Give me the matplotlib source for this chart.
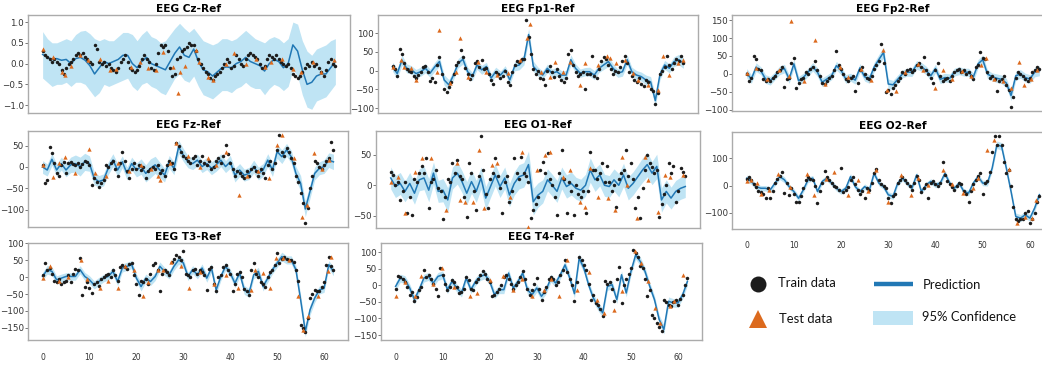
import numpy as np
import matplotlib
matplotlib.use("Agg")
import matplotlib.pyplot as plt

# ---------------- data ----------------
# prediction sampled at x = 0..62 (step 1); train samples at step 0.5
cz_pred = [0.22,0.15,0.1,0.12,0.08,0.1,0.0,0.12,0.15,0.08,
           -0.05,-0.25,-0.1,0.05,0.0,0.05,0.1,0.2,0.2,0.0,
           -0.1,0.05,0.15,0.0,-0.05,-0.1,-0.15,0.05,0.25,0.4,
           0.2,0.15,0.35,0.05,-0.15,-0.2,-0.3,-0.2,-0.1,-0.08,
           -0.1,0.0,0.05,0.15,0.05,0.0,-0.05,-0.18,0.0,0.1,
           0.05,-0.1,0.0,0.45,0.3,-0.15,-0.5,-0.45,-0.3,-0.25,
           -0.25,-0.1,0.05]
cz_hi = [0.77,0.6,0.5,0.5,0.55,0.6,0.55,0.7,0.78,0.8,
         0.72,0.6,0.55,0.6,0.55,0.55,0.65,0.75,0.75,0.7,
         0.55,0.7,0.8,0.65,0.6,0.5,0.55,0.7,0.85,0.97,
         0.85,0.75,0.85,0.7,0.55,0.5,0.45,0.5,0.6,0.6,
         0.55,0.6,0.7,0.8,0.7,0.6,0.55,0.5,0.6,0.65,
         0.6,0.5,0.6,1.0,0.95,0.55,0.3,0.2,0.35,0.4,
         0.45,0.55,0.6]
cz_lo = [-0.35,-0.45,-0.55,-0.5,-0.5,-0.45,-0.55,-0.45,-0.45,-0.5,
         -0.65,-0.8,-0.7,-0.5,-0.55,-0.5,-0.45,-0.4,-0.35,-0.55,
         -0.65,-0.5,-0.45,-0.55,-0.6,-0.7,-0.75,-0.55,-0.35,-0.25,
         -0.4,-0.45,-0.3,-0.55,-0.75,-0.8,-0.85,-0.75,-0.65,-0.65,
         -0.7,-0.6,-0.55,-0.45,-0.55,-0.6,-0.6,-0.75,-0.6,-0.5,
         -0.55,-0.65,-0.55,-0.15,-0.3,-0.75,-1.05,-1.1,-0.9,-0.85,
         -0.8,-0.65,-0.5]
cz_train = [0.3,0.2,0.15,0.1,0.05,0.1,0.05,0.0,-0.15,-0.25,
            -0.1,0.0,0.05,0.1,0.2,0.25,0.2,0.25,0.15,0.1,
            0.05,0.0,0.45,0.35,0.05,0.0,0.05,-0.05,0.0,-0.1,
            -0.15,-0.2,-0.1,0.05,0.1,0.2,0.05,-0.1,-0.15,-0.2,
            -0.15,-0.05,0.1,0.2,0.1,0.05,-0.1,-0.15,0.0,0.25,
            0.45,0.4,0.45,0.3,-0.1,-0.3,-0.25,0.1,0.15,0.3,
            0.35,0.4,0.5,0.45,0.45,0.3,0.1,0.0,-0.1,-0.2,
            -0.25,-0.35,-0.4,-0.3,-0.25,-0.2,-0.1,0.0,0.1,0.05,
            -0.1,-0.05,0.2,0.1,0.0,-0.05,0.1,0.2,0.25,0.2,
            0.15,0.1,0.0,-0.1,-0.05,0.1,0.2,0.15,0.1,0.2,
            0.1,0.05,0.0,-0.05,0.0,-0.1,-0.25,-0.3,-0.35,-0.3,
            -0.2,-0.1,0.0,-0.05,0.05,-0.05,0.0,-0.1,-0.2,-0.3,
            -0.15,0.05,0.1,0.0,-0.05]
cz_test_x = [0,2.25,4.0,4.7,6.1,7.9,9.6,12.1,14.2,15.6,18.8,20.6,22.3,24.1,25.5,
             27.6,28.7,29.0,30.1,32.5,33.2,35.0,36.0,38.9,40.6,43.1,45.2,47.0,48.4,50.8,
             53.0,54.7,57.2,58.9,61.8]
cz_test_y = [0.35,0.15,-0.2,-0.28,-0.05,0.2,0.08,0.1,-0.15,-0.12,-0.08,0.05,-0.1,-0.15,0.28,
             -0.08,-0.72,-0.2,-0.05,0.32,0.05,-0.32,-0.4,0.0,0.25,0.0,0.12,-0.08,0.05,0.12,
             -0.12,-0.2,0.04,-0.2,0.08]

fp1_pred = [10,-8,28,6,2,-8,-3,6,-7,10,
            24,-25,-38,-12,20,30,-3,-16,15,2,
            11,-20,-3,-12,2,-25,11,15,29,96,
            11,-3,-12,6,-7,-3,-12,-12,29,6,
            -7,-3,-3,-12,6,15,24,6,-7,-3,
            29,-3,-12,-16,-25,-30,-80,-10,15,6,
            24,29,20]
fp1_ci = [12,13,14,12,11,11,12,12,11,12,13,14,14,12,12,13,12,11,12,12,
          11,12,12,11,11,12,12,13,14,16,14,12,11,11,11,12,12,12,13,12,
          11,11,12,12,11,12,13,12,11,12,13,12,12,12,13,14,16,14,12,12,
          13,14,14]
fp1_train = [12,5,-15,58,45,20,5,-2,-5,-15,
             -20,-12,-5,10,12,-5,-28,-20,-30,15,
             35,-10,-50,-57,-45,-30,-8,15,22,54,
             35,8,-8,-22,-12,20,25,10,28,5,
             8,-10,-25,-35,-5,-8,-20,-15,0,-30,
             -38,-5,15,25,22,30,30,136,90,45,
             5,-8,0,-20,-22,-38,-2,12,-5,-18,
             5,-15,-25,-30,-20,45,56,15,-5,-15,
             -10,-5,-48,-10,-8,40,-15,-20,5,25,
             35,30,15,5,-10,0,-5,10,25,40,
             20,-5,-15,-25,-30,-20,-35,-40,-25,-30,
             -50,-55,-88,-60,-10,0,10,40,15,5,
             20,30,25,38,20]
fp1_test_x = [0.2,1.9,2.4,4.0,5.1,9.4,9.8,12.2,13.6,14.4,16.1,18.2,20.0,22.2,24.6,
              27.1,28.6,29.3,31.7,33.5,34.6,36.3,37.8,39.9,41.0,43.8,45.6,46.3,47.7,49.5,
              51.3,52.4,54.5,56.6,57.6,59.0,60.8,61.8]
fp1_test_y = [10,28,10,6,-25,-3,109,-34,-3,87,-16,24,-3,-12,-7,
              29,87,123,-3,-16,24,-3,24,-39,20,15,38,33,20,29,
              -7,-25,-39,-52,38,-12,20,29]

fp2_pred = [2,-14,19,9,-14,-19,-5,10,15,-14,
            28,-19,-10,5,20,5,-23,-14,-5,23,
            10,-14,-9,-17,17,-8,-14,19,40,60,
            -28,-30,-15,0,5,5,25,20,10,-5,
            15,-15,-10,-12,5,9,5,5,-9,28,
            40,0,-8,-12,-15,-25,-60,-5,0,-10,
            -14,5,9]
fp2_ci = [13,12,12,11,12,12,11,12,12,12,13,12,12,11,12,12,12,11,11,12,
          12,12,11,11,12,12,12,13,14,15,14,12,12,11,11,12,12,12,12,12,
          12,12,12,12,11,11,11,11,12,12,13,12,11,12,12,13,14,13,12,12,
          12,13,14]
fp2_train = [0,-20,-10,49,42,15,10,-15,-20,-15,
             -20,-10,-5,5,10,20,-35,-15,-10,30,
             44,-39,-25,-15,-10,5,0,15,20,35,
             10,-5,-25,-28,-20,-10,-5,10,63,25,
             15,0,-15,-20,-10,-5,-48,-25,10,20,
             0,-10,-15,-5,15,25,35,83,30,-51,
             -45,-55,-40,-30,-20,-10,5,0,10,15,
             5,10,25,30,20,46,10,0,-10,-25,
             10,30,-5,-20,-15,-10,-20,-5,5,10,
             15,5,10,0,5,-5,-15,20,25,60,
             45,42,5,-10,-5,-15,-46,-20,-15,-5,
             -30,-45,-92,-65,-10,5,0,-5,-15,-20,
             -10,5,10,20,15]
fp2_test_x = [0.1,2.0,4.3,6.8,8.9,9.5,12.2,14.5,16.5,19.8,21.5,24.2,26.3,28.9,29.8,
              31.7,33.6,36.2,37.4,39.9,41.5,43.5,45.7,47.5,49.6,50.6,52.3,54.4,55.9,57.7,
              58.7,60.3,61.5]
fp2_test_y = [3,17,-14,12,-5,148,-20,94,-28,18,-9,15,-18,67,-45,
              -46,5,28,12,-39,10,-15,8,-5,25,45,-15,-20,-40,32,
              -32,-15,12]

fz_pred = [0,-7,18,-7,8,-7,5,8,1,12,
           8,-26,-34,-30,-3,16,-7,12,-15,8,
           -7,1,-15,-3,5,-7,-19,12,-3,47,
           28,12,8,16,1,8,-3,5,16,1,
           12,-19,-7,-19,-15,1,-15,-7,16,-7,
           36,24,40,24,-15,-38,-98,-57,-15,-3,
           1,16,12]
fz_ci = [15,14,14,14,15,16,18,20,22,20,18,15,14,14,15,15,15,14,15,15,
         16,18,20,22,20,18,16,15,15,16,15,14,14,14,14,14,15,15,15,14,
         15,16,15,14,14,15,15,15,15,15,16,16,15,15,16,18,18,16,15,15,
         16,17,18]
fz_train = [5,-38,-30,47,33,10,-15,-20,5,12,
            -15,10,12,8,5,10,0,8,15,12,
            5,-42,-25,-35,-46,-38,-30,5,0,10,
            15,-5,-20,10,36,15,-10,-26,-5,10,
            -5,5,-8,0,-25,-10,-5,0,-5,5,
            -15,-8,-20,5,15,10,-5,55,50,35,
            25,20,15,10,20,25,5,15,25,10,
            5,15,-5,0,15,20,10,25,51,30,
            10,-5,-22,-10,-15,-20,-25,-10,-20,-5,
            0,-10,-20,-5,-15,-25,5,15,-5,10,
            40,74,35,25,45,35,20,10,-20,-35,
            -60,-84,-131,-95,-50,-20,15,10,0,-5,
            5,15,20,59,40]
fz_test_x = [0.2,2.2,3.5,4.8,7.0,9.8,11.2,13.5,16.0,18.5,21.0,23.2,24.6,25.0,27.2,
             28.5,31.0,33.5,35.3,37.0,39.2,41.8,43.5,46.0,48.2,50.0,51.0,53.5,55.3,56.4,
             57.8,59.5,61.0]
fz_test_y = [5,-24,10,24,-15,43,-15,-20,10,-10,5,-5,-22,-30,10,
             57,25,0,20,5,36,-65,-20,-10,-25,51,74,20,-116,-88,
             32,-5,16]

o1_pred = [12,-2,3,-10,3,-13,9,12,-8,20,
           -10,-8,-24,12,20,6,-13,6,-10,12,
           -21,-2,17,-2,12,-16,3,14,17,34,
           -27,-16,-10,9,0,-10,12,-2,3,-5,
           -8,0,25,9,17,0,-2,9,0,17,
           -5,3,14,25,34,20,31,-24,-10,-21,
           -10,-5,-2]
o1_ci = [18,18,18,17,18,18,18,19,19,18,18,19,20,18,18,18,19,19,18,18,
         19,18,18,18,18,19,19,20,20,22,22,20,19,18,18,18,18,19,19,18,
         18,18,20,19,18,18,18,18,19,19,19,19,19,20,20,19,20,20,19,18,
         18,18,18]
o1_train = [22,17,0,5,-24,-10,5,-46,-20,-49,
            10,5,20,31,20,45,-38,5,10,25,
            -5,-10,-56,-20,10,5,36,20,42,15,
            10,-20,-52,36,20,-10,-41,15,81,25,
            -15,-38,10,20,45,15,-5,-46,5,15,
            -27,-10,45,20,10,47,20,15,5,-54,
            -40,-30,-20,25,39,20,53,10,0,-20,
            -49,20,58,10,-46,5,-10,-49,0,-15,
            -20,-10,-46,-10,54,25,25,10,20,36,
            5,31,5,-10,0,-35,10,20,25,58,
            15,36,10,-38,-20,-54,-5,25,50,36,
            30,20,25,-52,-30,-15,0,36,20,31,
            -27,-10,28,22,15]
o1_test_x = [0,1.6,3.0,5.1,6.6,8.4,11.6,14.0,14.6,15.6,17.4,18.5,19.6,21.3,22.3,
             25.1,27.6,29.0,30.7,32.5,33.5,36.3,37.7,39.8,40.9,42.0,43.7,45.8,47.2,48.6,
             49.7,51.8,53.5,54.2,56.3,57.8,58.8,61.6]
o1_test_y = [6,14,-46,22,45,45,-41,36,-24,-27,-27,58,-38,34,36,
             -19,55,-68,25,50,55,14,25,-27,-35,28,-19,-21,-41,47,
             0,-54,47,9,-43,17,14,17]

o2_pred = [27,15,-4,-10,-10,-16,9,33,21,-4,
           -22,-47,-16,21,27,-22,15,27,9,-10,
           -22,-10,33,-4,-22,-4,-16,45,9,-4,
           -34,-40,9,27,9,-10,39,-22,2,15,
           2,9,45,9,-10,9,-22,-28,9,33,
           9,9,64,150,144,64,-22,-114,-120,-108,
           -120,-83,-34]
o2_ci = [12,11,10,10,10,10,10,11,11,10,10,11,10,10,10,10,10,10,10,10,
         10,10,11,10,10,10,10,11,10,10,11,11,10,10,10,10,11,10,10,10,
         10,10,11,10,10,10,10,10,10,11,10,11,12,14,14,12,12,13,13,12,
         12,12,12]
o2_train = [25,31,20,5,-5,-20,-25,-30,-47,-10,
            -47,-20,10,25,35,48,-28,10,-34,-10,
            -30,-59,-61,-40,-10,20,30,25,20,0,
            -65,-20,10,54,30,20,10,0,-5,-15,
            64,-25,-15,-5,20,30,5,-15,-30,-20,
            -47,-10,-15,10,45,60,20,5,0,-10,
            -45,-65,-40,-30,10,20,30,20,10,0,
            -15,10,35,20,-25,-10,5,-47,10,15,
            5,0,10,86,40,15,5,-5,-15,0,
            10,5,-20,-30,-59,-20,5,20,35,45,
            -31,10,15,50,125,184,150,184,150,85,
            45,58,0,-80,-124,-130,-125,-124,-100,-95,
            -139,-125,-102,-60,-37]
o2_test_x = [0,1.0,2.3,3.0,4.8,6.7,9.2,12.8,14.3,16.8,18.6,21.4,23.5,25.8,27.4,
             29.9,32.6,34.8,36.3,38.4,41.6,43.5,45.9,48.0,49.1,51.0,52.3,55.5,57.3,59.0,
             60.4,61.3]
o2_test_y = [17,20,11,-31,-16,43,-6,43,-34,25,48,-34,21,-20,58,
             -59,39,-34,27,2,58,5,-28,-10,27,131,168,60,-139,-114,
             -120,-53]

t3_pred = [2,22,17,-8,-3,2,2,2,22,2,
           -8,-23,-13,-3,2,17,-13,27,32,37,
           -3,-28,-3,-13,2,32,17,7,32,51,
           42,2,22,7,27,-3,27,-38,2,32,
           12,-18,12,-38,-47,7,17,-28,-3,22,
           42,61,51,51,22,-67,-161,-97,-62,-38,
           -33,37,17]
t3_ci = [12,13,13,12,12,11,11,11,12,12,12,12,12,11,11,12,12,12,12,12,
         12,13,12,12,12,13,12,12,12,13,13,12,12,12,12,12,13,13,12,12,
         12,13,12,13,13,12,12,13,12,12,13,13,12,12,13,15,16,15,13,12,
         12,12,13]
t3_train = [5,41,20,27,10,-10,-15,-5,-20,-15,
            -10,5,-15,10,25,20,56,-52,-28,-15,
            -33,-47,-20,-15,-25,-5,0,5,10,0,
            20,5,-10,30,35,30,25,40,41,5,
            -20,-52,-10,-15,-5,-20,10,35,41,20,
            -42,10,20,15,5,46,55,66,60,50,
            76,10,5,0,20,25,10,20,15,5,
            -38,25,30,-20,-42,0,5,30,35,20,
            10,-42,-20,10,15,0,-35,-42,-52,20,
            41,10,0,-15,-20,-28,0,15,20,35,
            71,41,55,60,55,50,50,45,20,-10,
            -141,-150,-161,-120,-62,-50,-38,-40,-42,-30,
            -15,37,61,32,20]
t3_test_x = [0,1.6,3.5,5.5,8.3,9.5,12.2,14.0,16.1,17.5,19.5,21.4,22.5,24.6,25.7,
             27.4,29.6,31.3,33.5,36.5,39.1,41.6,44.5,45.2,47.0,48.4,49.8,51.2,52.6,54.4,
             55.5,56.5,58.7,60.8,61.5]
t3_test_y = [-3,32,-10,0,51,-5,-33,-10,-33,32,20,-57,-15,22,22,
             46,32,-33,15,-20,7,-33,-38,22,12,-33,56,56,51,-57,
             -156,-116,-57,17,61]

t4_pred = [-3,22,17,-8,-43,-13,22,27,7,27,
           32,-13,12,-8,-23,22,-13,12,27,32,
           12,-28,-13,-13,37,-8,12,37,-13,-28,
           -8,-33,-13,22,7,32,62,22,-25,82,
           52,2,-38,-63,-83,-3,2,-43,32,-23,
           42,92,72,42,-3,-43,-103,-133,-48,-53,
           -53,-28,12]
t4_ci = [12,12,12,12,13,12,12,12,12,12,12,12,12,12,12,12,12,12,12,12,
         12,12,12,12,12,12,12,12,13,13,12,12,12,12,12,12,13,13,13,14,
         13,12,12,13,13,12,12,12,12,12,12,13,13,12,12,12,13,14,13,13,
         13,12,12]
t4_train = [-10,27,25,20,10,-5,-28,-20,-48,-35,
            -15,-5,47,25,30,20,5,-10,-33,52,
            30,5,-15,-5,15,10,-5,-23,-20,-10,
            25,15,-10,-15,10,20,30,42,35,20,
            10,-33,-30,-20,-10,0,25,30,20,5,
            -10,0,10,25,42,20,-10,-28,-15,5,
            22,-10,-43,-20,-5,20,25,20,0,10,
            30,47,77,40,20,0,-48,10,87,77,
            62,45,5,-43,-30,-53,-58,-70,-93,12,
            5,10,-10,-48,20,57,-53,0,20,35,
            52,107,97,85,60,52,20,-33,-13,-88,
            -100,-113,-125,-138,-43,-50,-60,-63,-50,-43,
            -58,-40,-28,0,22]
t4_test_x = [0,2.0,4.1,5.5,8.0,9.8,12.5,15.8,17.2,20.0,22.9,25.0,26.8,29.0,31.5,
             33.0,34.8,36.4,38.5,41.0,42.8,44.2,46.3,48.1,50.8,52.2,53.6,55.2,56.2,58.2,
             59.2,61.0]
t4_test_y = [-33,10,-33,27,5,52,-5,-33,-23,15,27,-15,20,-33,-15,
             20,-33,77,-13,40,-43,-83,-73,-18,104,67,12,-68,-113,-63,
             -48,32]

titles = ["EEG Cz-Ref", "EEG Fp1-Ref", "EEG Fp2-Ref", "EEG Fz-Ref",
          "EEG O1-Ref", "EEG O2-Ref", "EEG T3-Ref", "EEG T4-Ref"]

# ---------------- styling ----------------
TRAIN_C = "#1c1c1c"
TEST_C = "#dc6a1e"
LINE_C = "#2178b5"
BAND_C = "#bfe4f4"
SPINE_C = "#ababab"

W, H = 1042, 367
fig = plt.figure(figsize=(W / 100, H / 100), dpi=100)


def add_ax(l, t, r, b):
    return fig.add_axes([l / W, 1 - b / H, (r - l) / W, (b - t) / H])


def panel(box, title, pred, lo, hi, train, tx, ty, ylim, yticks, ylabels, show_x):
    ax = add_ax(*box)
    xp = np.arange(len(pred))
    xtr = np.arange(len(train)) * 0.5
    ax.fill_between(xp, lo, hi, color=BAND_C, lw=0, zorder=1)
    ax.plot(xp, pred, color=LINE_C, lw=1.1, zorder=2)
    ax.plot(xtr, train, "o", color=TRAIN_C, ms=2.5, mew=0, zorder=3)
    ax.plot(tx, ty, "^", color=TEST_C, ms=3.1, mew=0, zorder=4)
    ax.set_xlim(-3.1, 65.1)
    ax.set_ylim(*ylim)
    ax.set_yticks(yticks)
    ax.set_yticklabels(ylabels)
    ax.set_xticks(range(0, 61, 10))
    if show_x:
        ax.tick_params(axis="x", length=0, pad=9, labelsize=5.5, labelcolor="#333333")
    else:
        ax.tick_params(axis="x", length=0, labelbottom=False)
    ax.tick_params(axis="y", length=2.0, width=0.7, color="#777777",
                   labelsize=6.3, pad=1.0, labelcolor="#333333")
    for s in ax.spines.values():
        s.set_color(SPINE_C)
        s.set_linewidth(1.0)
    ax.set_title(title, fontsize=7.6, fontweight="bold", pad=2.5)
    return ax


def band(pred, ci):
    p = np.asarray(pred, float)
    c = np.asarray(ci, float)
    return p - c, p + c


def mlabels(vals, fmt):
    return [fmt.format(v).replace("-", "\u2212") for v in vals]


# Cz
panel((28, 15, 350, 113), titles[0], cz_pred, cz_lo, cz_hi, cz_train,
      cz_test_x, cz_test_y, (-1.19, 1.17), [-1.0, -0.5, 0.0, 0.5, 1.0],
      mlabels([-1.0, -0.5, 0.0, 0.5, 1.0], "{:.1f}"), False)
# Fp1
lo, hi = band(fp1_pred, fp1_ci)
yt = [-100, -50, 0, 50, 100]
panel((378, 15, 698, 113), titles[1], fp1_pred, lo, hi, fp1_train,
      fp1_test_x, fp1_test_y, (-113, 148), yt, mlabels(yt, "{:d}"), False)
# Fp2
lo, hi = band(fp2_pred, fp2_ci)
yt = [-100, -50, 0, 50, 100, 150]
panel((732, 15, 1054, 111), titles[2], fp2_pred, lo, hi, fp2_train,
      fp2_test_x, fp2_test_y, (-103, 164), yt, mlabels(yt, "{:d}"), False)
# Fz
lo, hi = band(fz_pred, fz_ci)
yt = [-100, -50, 0, 50]
panel((28, 131, 348, 227), titles[3], fz_pred, lo, hi, fz_train,
      fz_test_x, fz_test_y, (-140, 84), yt, mlabels(yt, "{:d}"), False)
# O1
lo, hi = band(o1_pred, o1_ci)
yt = [-50, 0, 50]
panel((376, 131, 700, 228), titles[4], o1_pred, lo, hi, o1_train,
      o1_test_x, o1_test_y, (-70, 89), yt, mlabels(yt, "{:d}"), False)
# O2
lo, hi = band(o2_pred, o2_ci)
yt = [-100, 0, 100]
panel((732, 132, 1054, 229), titles[5], o2_pred, lo, hi, o2_train,
      o2_test_x, o2_test_y, (-160, 197), yt, mlabels(yt, "{:d}"), True)
# T3
lo, hi = band(t3_pred, t3_ci)
yt = [-150, -100, -50, 0, 50, 100]
panel((28, 243, 348, 340), titles[6], t3_pred, lo, hi, t3_train,
      t3_test_x, t3_test_y, (-186, 101), yt, mlabels(yt, "{:d}"), True)
# T4
lo, hi = band(t4_pred, t4_ci)
panel((381, 243, 702, 340), titles[7], t4_pred, lo, hi, t4_train,
      t4_test_x, t4_test_y, (-165, 128), yt, mlabels(yt, "{:d}"), True)

# ---------------- legend (drawn in pixel space) ----------------
lg = fig.add_axes([0, 0, 1, 1], zorder=10)
lg.set_xlim(0, W)
lg.set_ylim(H, 0)
lg.axis("off")
lg.patch.set_alpha(0)
lg.plot([758], [284], "o", color=TRAIN_C, ms=11.5, mew=0)
lg.plot([758], [319], "^", color=TEST_C, ms=12.5, mew=0)
lg.plot([874, 913], [284, 284], color=LINE_C, lw=3.2, solid_capstyle="butt")
lg.add_patch(plt.Rectangle((873, 311), 40, 14, color=BAND_C, lw=0))
lfont = dict(fontsize=9.4, family=["Lato", "DejaVu Sans"], va="center", ha="left", color="#111111")
lg.text(778, 283, "Train data", **lfont)
lg.text(779, 319, "Test data", **lfont)
lg.text(923, 285, "Prediction", **lfont)
lg.text(922, 317, "95% Confidence", **lfont)

fig.savefig("out.png", dpi=100)
